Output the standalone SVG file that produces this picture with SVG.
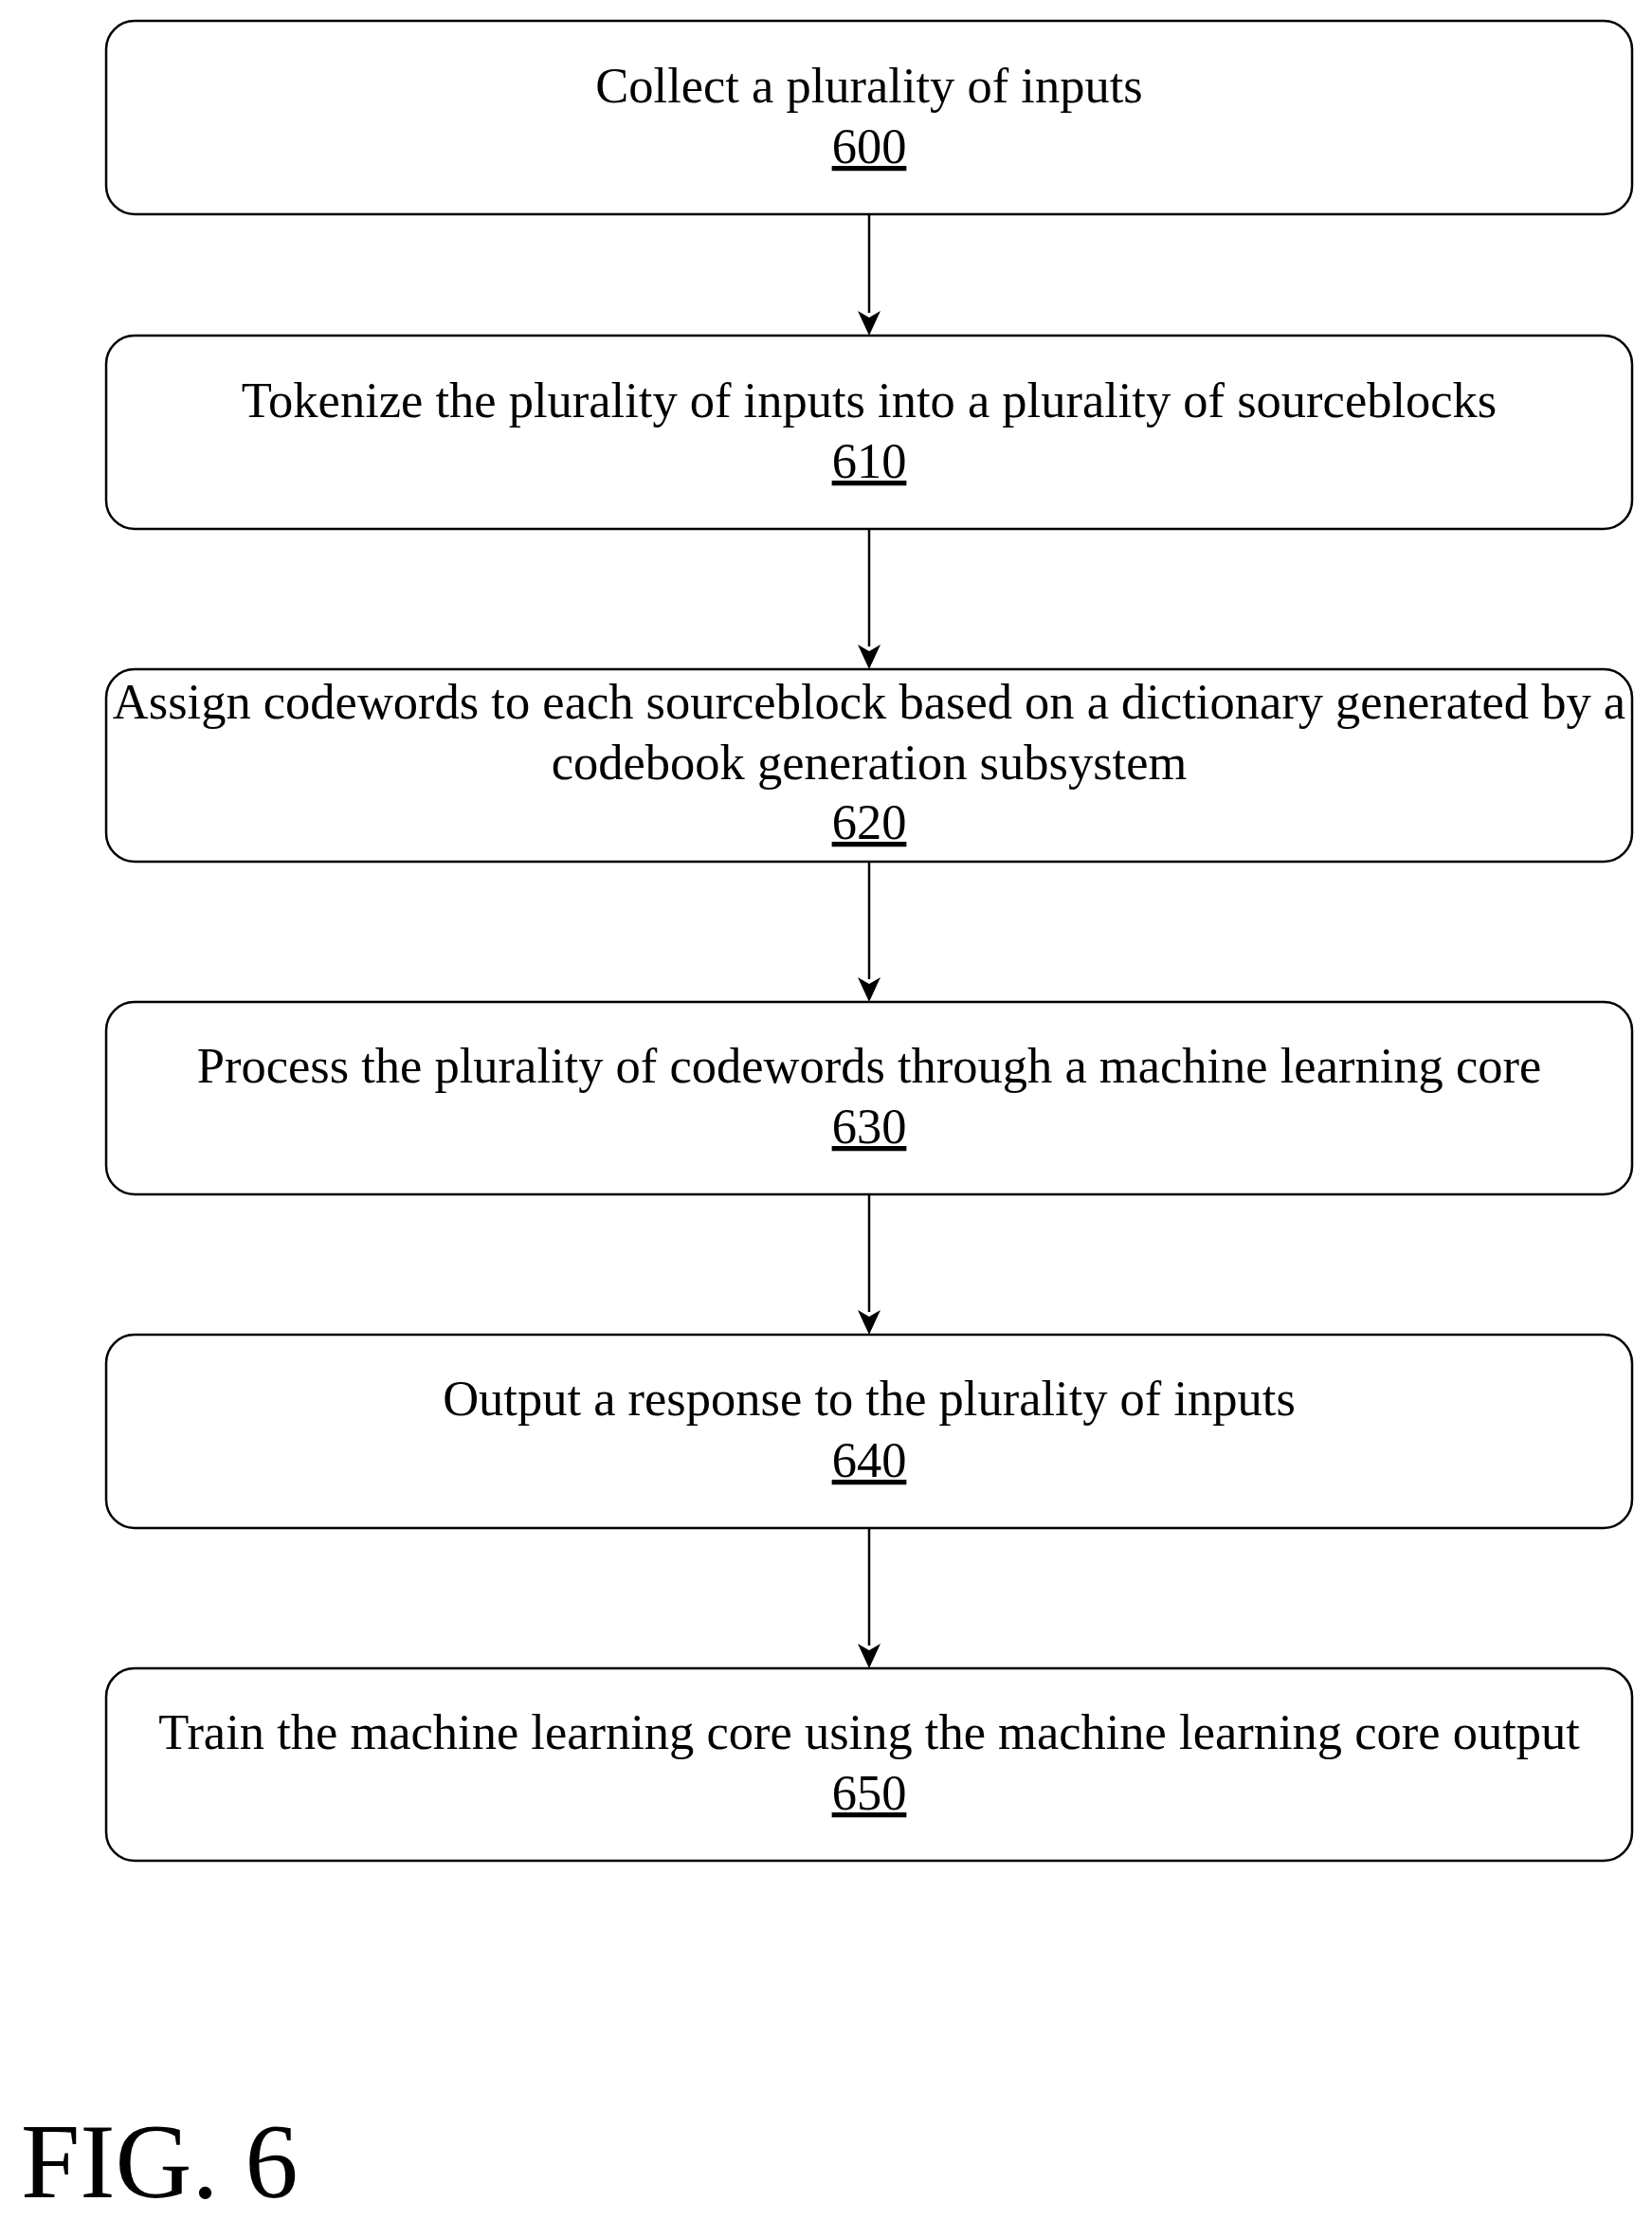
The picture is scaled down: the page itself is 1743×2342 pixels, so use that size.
<svg xmlns="http://www.w3.org/2000/svg" width="1743" height="2342" viewBox="0 0 1743 2342">
<style>
.b{fill:#fff;stroke:#000;stroke-width:2.5}
.t{font-family:"Liberation Serif",serif;font-size:52.5px;text-anchor:middle;fill:#000}
.n{text-decoration:underline}
.c{stroke:#000;stroke-width:2.5;fill:none}
</style>
<defs>
<marker id="ar" markerWidth="26" markerHeight="30" refX="13" refY="28" orient="auto-start-reverse" markerUnits="userSpaceOnUse" viewBox="0 0 26 30"><path d="M1,0L13,28L25,0L13,8z" fill="#000" transform="rotate(-90 13 15)"/></marker>
</defs>
<rect width="1743" height="2342" fill="#fff"/>
<g id="n600"><rect class="b" x="112" y="22" width="1610" height="204" rx="30"/><text class="t" x="917" y="108">Collect a plurality of inputs</text><text class="t n" x="917" y="172">600</text></g>
<g id="n610"><rect class="b" x="112" y="354" width="1610" height="204" rx="30"/><text class="t" x="917" y="440">Tokenize the plurality of inputs into a plurality of sourceblocks</text><text class="t n" x="917" y="504">610</text></g>
<g id="n620"><rect class="b" x="112" y="706" width="1610" height="203" rx="30"/><text class="t" x="917" y="758">Assign codewords to each sourceblock based on a dictionary generated by a</text><text class="t" x="917" y="822">codebook generation subsystem</text><text class="t n" x="917" y="885">620</text></g>
<g id="n630"><rect class="b" x="112" y="1057" width="1610" height="203" rx="30"/><text class="t" x="917" y="1142">Process the plurality of codewords through a machine learning core</text><text class="t n" x="917" y="1206">630</text></g>
<g id="n640"><rect class="b" x="112" y="1408" width="1610" height="204" rx="30"/><text class="t" x="917" y="1493">Output a response to the plurality of inputs</text><text class="t n" x="917" y="1558">640</text></g>
<g id="n650"><rect class="b" x="112" y="1760" width="1610" height="203" rx="30"/><text class="t" x="917" y="1845">Train the machine learning core using the machine learning core output</text><text class="t n" x="917" y="1909">650</text></g>
<g id="connectors" fill="#000">
<line class="c" x1="917" y1="226" x2="917" y2="330"/><path d="M905,328L917,354L929,328L917,335z"/>
<line class="c" x1="917" y1="558" x2="917" y2="682"/><path d="M905,680L917,706L929,680L917,687z"/>
<line class="c" x1="917" y1="909" x2="917" y2="1033"/><path d="M905,1031L917,1057L929,1031L917,1038z"/>
<line class="c" x1="917" y1="1260" x2="917" y2="1384"/><path d="M905,1382L917,1408L929,1382L917,1389z"/>
<line class="c" x1="917" y1="1612" x2="917" y2="1736"/><path d="M905,1734L917,1760L929,1734L917,1741z"/>
</g>
<text x="22" y="2318" font-family="Liberation Serif,serif" font-size="112">FIG. 6</text>
</svg>
